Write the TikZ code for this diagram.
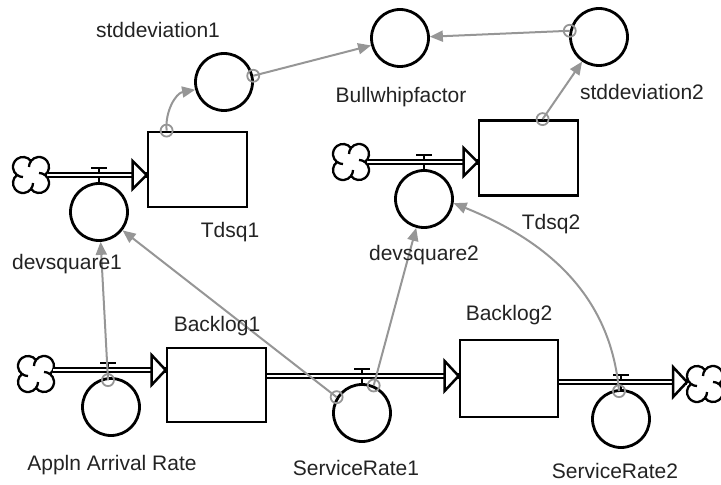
\documentclass[tikz,border=0pt]{standalone}
\usepackage{fontspec}
\setmainfont{Liberation Sans}
\usetikzlibrary{arrows.meta,calc}
\definecolor{conncol}{RGB}{150,150,150}
\definecolor{txtcol}{RGB}{35,35,35}
\newcommand{\cloudat}[1]{%
  \draw[line width=2.3bp,shift={(#1)}]
    (14,0) arc[start angle=-53.13,end angle=143.13,radius=10]
           arc[start angle=36.87,end angle=233.13,radius=10]
           arc[start angle=126.87,end angle=323.13,radius=10]
           arc[start angle=216.87,end angle=413.13,radius=10] -- cycle;
  \draw[line width=2.3bp,shift={(#1)}]
    (0,14) arc[start angle=143.13,end angle=180,radius=10]
    (-14,0) arc[start angle=233.13,end angle=270,radius=10]
    (0,-14) arc[start angle=323.13,end angle=360,radius=10]
    (14,0) arc[start angle=53.13,end angle=90,radius=10];
}
\begin{document}
\begin{tikzpicture}[x=1bp,y=1bp,
  aux/.style={circle,draw=black,line width=2.8bp,minimum size=57bp,inner sep=0pt},
  stock/.style={rectangle,draw=black,line width=2.8bp,inner sep=0pt},
  lbl/.style={font=\fontsize{21bp}{25bp}\selectfont,text=txtcol,inner sep=0pt},
  pipe/.style={draw=black,line width=2.2bp,double=white,double distance=2.2bp},
  valve/.style={draw=black,line width=2.5bp},
  conn/.style={draw=conncol,line width=2bp,-{Triangle[length=13bp,width=11bp]}},
  origin/.style={circle,draw=conncol,line width=1.8bp,minimum size=12bp,inner sep=0pt},
  ptip/.style={draw=black,line width=2.5bp,fill=white,line join=miter}
]
\useasboundingbox (0,0) rectangle (721,-485);

% auxiliaries
\node[aux] (sd1) at (224,-82) {};
\node[aux] (bw) at (400,-38) {};
\node[aux] (sd2) at (599,-37) {};
\node[aux] (dq1) at (99,-212) {};
\node[aux] (dq2) at (424,-199) {};
\node[aux] (aar) at (111,-407) {};
\node[aux] (sr1) at (362,-413) {};
\node[aux] (sr2) at (621,-419) {};

% stocks
\node[stock,minimum width=99bp,minimum height=75bp] (t1) at (197.5,-169.5) {};
\node[stock,minimum width=99bp,minimum height=75bp] (t2) at (528.5,-158) {};
\node[stock,minimum width=99bp,minimum height=74bp] (b1) at (216.5,-385) {};
\node[stock,minimum width=98bp,minimum height=77bp] (b2) at (509,-378.5) {};

% clouds
\coordinate (c1) at (31,-175);
\coordinate (c2) at (351,-162);
\coordinate (c3) at (36,-374);
\coordinate (c4) at (705,-384);
\cloudat{c1}\cloudat{c2}\cloudat{c3}\cloudat{c4}

% pipe levels
\coordinate (y3) at (0,-370);
\coordinate (y4) at (0,-376);
\coordinate (y5) at (0,-382);

% valves (stem + bar)
\draw[valve] (dq1.north) -- (dq1.north |- 0,-168) ++(-8,0) -- ++(16,0);
\draw[valve] (dq2.north) -- (dq2.north |- 0,-155) ++(-8,0) -- ++(16,0);
\draw[valve] ($(aar.north)+(-3,0)$) -- ($(aar.north |- 0,-363)+(-3,0)$) ++(-8,0) -- ++(16,0);
\draw[valve] (sr1.north) -- (sr1.north |- 0,-369) ++(-8,0) -- ++(16,0);
\draw[valve] (sr2.north) -- (sr2.north |- 0,-375) ++(-8,0) -- ++(16,0);

% pipes
\draw[pipe] ($(c1)+(17,0)$) -- (t1.west |- c1);
\draw[ptip] ($(t1.west |- c1)+(-14,14)$) -- (t1.west |- c1) -- ++(-14,-14) -- cycle;
\draw[pipe] ($(c2)+(17,0)$) -- (t2.west |- c2);
\draw[ptip] ($(t2.west |- c2)+(-14,14)$) -- (t2.west |- c2) -- ++(-14,-14) -- cycle;
\draw[pipe] ($(c3 |- y3)+(17,0)$) -- (b1.west |- y3);
\draw[ptip] ($(b1.west |- y3)+(-14,15)$) -- (b1.west |- y3) -- ++(-14,-15) -- cycle;
\draw[pipe] (b1.east |- y4) -- (b2.west |- y4);
\draw[ptip] ($(b2.west |- y4)+(-14,15)$) -- (b2.west |- y4) -- ++(-14,-15) -- cycle;
\draw[pipe] (b2.east |- y5) -- ($(c4 |- y5)+(-18,0)$);
\draw[ptip] ($(c4 |- y5)+(-32,15)$) -- ($(c4 |- y5)+(-18,0)$) -- ++(-14,-15) -- cycle;

% connectors
\node[origin] (o1) at ($(t1.north west)+(20,0)$) {};
\draw[conn] (o1.center) to[out=95,in=190] (sd1.195);
\node[origin] (o2) at (sd1.12) {};
\draw[conn] (o2.center) -- (bw);
\node[origin] (o3) at (sd2.168) {};
\draw[conn] (o3.center) -- (bw);
\node[origin] (o4) at ($(t2.north west)+(65,0)$) {};
\draw[conn] (o4.center) -- (sd2);
\node[origin] (o5) at ($(aar.north)+(-3,-3)$) {};
\draw[conn] (o5.center) -- (dq1);
\node[origin] (o6) at (sr1.148) {};
\draw[conn] (o6.center) -- (dq1);
\node[origin] (o7) at (sr1.67) {};
\draw[conn] (o7.center) -- (dq2);
\node[origin] (o8) at ($(sr2.north)+(-2,-2)$) {};
\draw[conn] (o8.center) to[out=95,in=-22] (dq2.-8);

% labels
\node[lbl] (lsd1) at (158,-30) {stddeviation1};
\node[lbl] (lbw) at (401,-97) {Bullwhipfactor};
\node[lbl] (lsd2) at (642,-92) {stddeviation2};
\node[lbl] (lt1) at (230,-232) {Tdsq1};
\node[lbl] (lt2) at (551,-224) {Tdsq2};
\node[lbl] (ldq1) at (67,-264) {devsquare1};
\node[lbl] (ldq2) at (424,-255) {devsquare2};
\node[lbl] (lb1) at (217,-326) {Backlog1};
\node[lbl] (lb2) at (509,-315) {Backlog2};
\node[lbl] (laar) at (112,-465) {Appln Arrival Rate};
\node[lbl] (lsr1) at (356,-468) {ServiceRate1};
\node[lbl] (lsr2) at (615,-471) {ServiceRate2};
\end{tikzpicture}
\end{document}
